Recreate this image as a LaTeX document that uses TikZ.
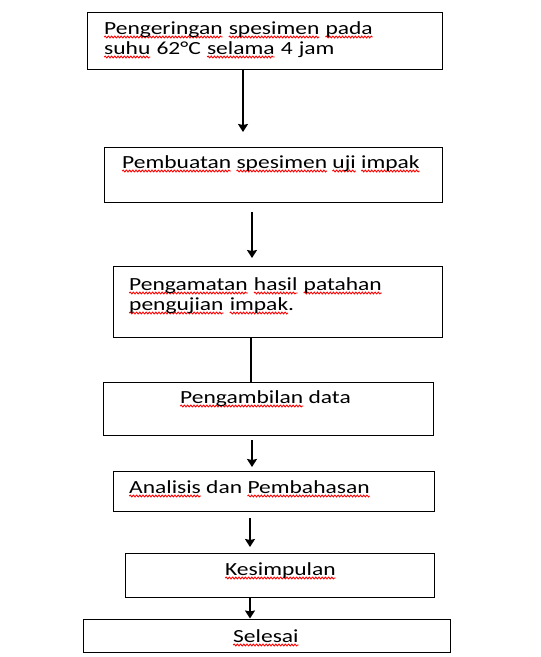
\documentclass[tikz,border=0pt]{standalone}
\usepackage{fontspec}
\setmainfont{Carlito}[FakeStretch=1.27]
\usetikzlibrary{arrows.meta,positioning,decorations.pathmorphing}

\newlength\spellwd
\newcommand\spell[1]{\settowidth\spellwd{#1}\smash{\rlap{\tikz[overlay]\draw[red, line width=0.9pt, decorate, decoration={snake, amplitude=0.9pt, segment length=3.2pt}] (0,-3pt) -- (\spellwd,-3pt);}}#1}

\begin{document}
\begin{tikzpicture}[>={Stealth[length=8pt,width=10pt,inset=1pt]}, semithick]

    \tikzstyle{stepbox} = [rectangle, draw=black, line width=1pt, inner sep=0pt]
    \tikzstyle{lbl} = [anchor=base west, inner sep=0pt, align=left, font=\fontsize{18.5}{20}\selectfont]
    \tikzstyle{flow} = [->, line width=1.6pt]

    \useasboundingbox (0,0) rectangle (541pt,-657pt);

    % boxes
    \node (drying)   [stepbox, minimum width=355pt, minimum height=57pt] at (264.5pt,-40.5pt) {};
    \node (making)   [stepbox, minimum width=338pt, minimum height=55pt] at (273pt,-174.5pt)  {};
    \node (observe)  [stepbox, minimum width=329pt, minimum height=71pt] at (277.5pt,-301.5pt) {};
    \node (data)     [stepbox, minimum width=330pt, minimum height=53pt] at (268pt,-408.5pt)  {};
    \node (analysis) [stepbox, minimum width=321pt, minimum height=40pt] at (273.5pt,-491pt)  {};
    \node (concl)    [stepbox, minimum width=309pt, minimum height=44pt] at (279.5pt,-575pt)  {};
    \node (done)     [stepbox, minimum width=367pt, minimum height=33pt] at (266.5pt,-635.5pt) {};

    % texts
    \node (dryingtxt)   [lbl, text width=330pt] at (104pt,-34pt)  {\spell{Pengeringan} \spell{spesimen} \spell{pada}\\ \spell{suhu} 62°C \spell{selama} 4 jam};
    \node (makingtxt)   [lbl]                   at (122pt,-168pt) {\spell{Pembuatan} \spell{spesimen} \spell{uji} \spell{impak}};
    \node (observetxt)  [lbl, text width=300pt] at (129pt,-290pt) {\spell{Pengamatan} \spell{hasil} \spell{patahan}\\ \spell{pengujian} \spell{impak}.};
    \node (datatxt)     [lbl]                   at (180pt,-403pt) {\spell{Pengambilan} data};
    \node (analysistxt) [lbl]                   at (129pt,-493pt) {\spell{Analisis} dan \spell{Pembahasan}};
    \node (concltxt)    [lbl]                   at (225pt,-575pt) {\spell{Kesimpulan}};
    \node (donetxt)     [lbl]                   at (233pt,-642pt) {\spell{Selesai}};

    % free ends
    \coordinate (e1) at (243pt,-132pt);
    \coordinate (s2) at (252pt,-212pt);
    \coordinate (e2) at (252pt,-258pt);
    \coordinate (x3) at (251pt,0pt);
    \coordinate (s4) at (252pt,-440pt);
    \coordinate (e4) at (252pt,-467pt);
    \coordinate (s5) at (250pt,-518pt);
    \coordinate (e5) at (250pt,-547pt);
    \coordinate (x6) at (250pt,0pt);

    % connectors
    \draw[flow] (e1 |- drying.south) -- (e1);
    \draw[flow] (s2) -- (e2);
    \draw[line width=1.6pt] (x3 |- observe.south) -- (x3 |- data.north);
    \draw[flow] (s4) -- (e4);
    \draw[flow] (s5) -- (e5);
    \draw[flow] (x6 |- concl.south) -- (x6 |- done.north);
\end{tikzpicture}
\end{document}
